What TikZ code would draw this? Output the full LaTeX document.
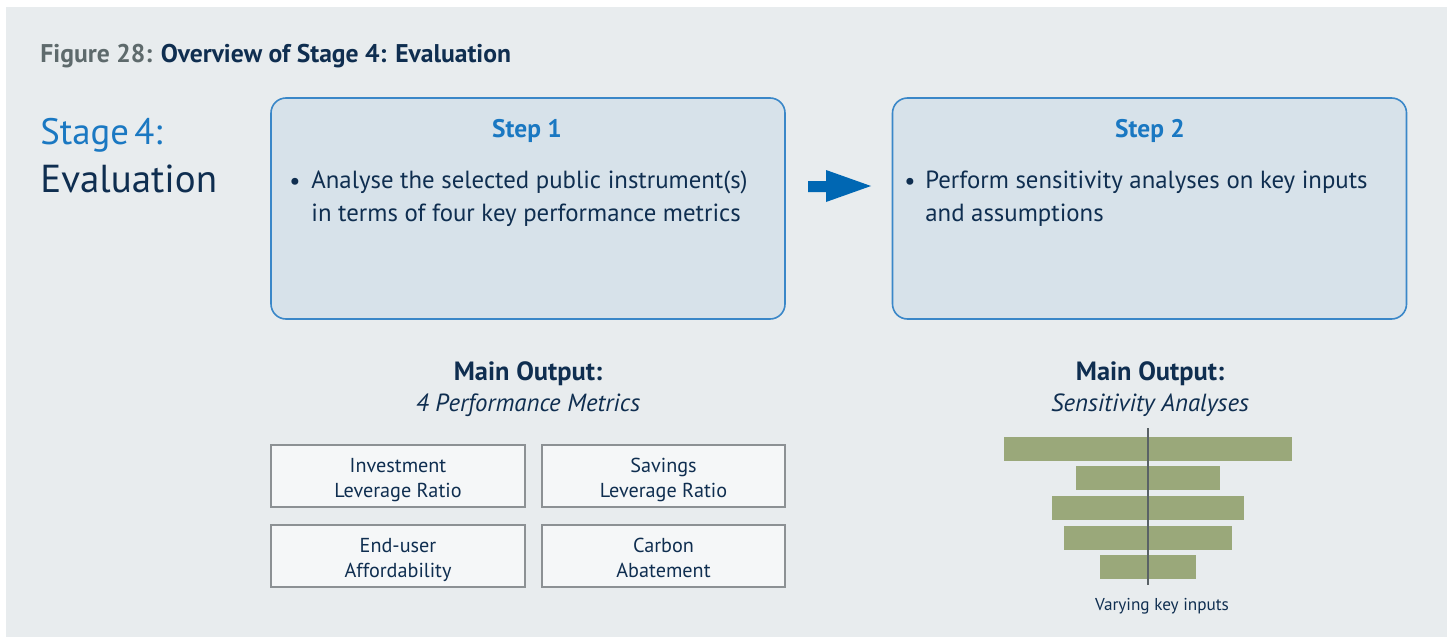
\documentclass[tikz,border=0pt]{standalone}
\usepackage{fontspec}
\setmainfont{PT Sans}
\usetikzlibrary{positioning}

\definecolor{panelgrey}{HTML}{E8ECEE}
\definecolor{navy}{HTML}{0F2E50}
\definecolor{figgrey}{HTML}{5E6A6C}
\definecolor{stageblue}{HTML}{1A78C2}
\definecolor{stepfill}{HTML}{D7E2EA}
\definecolor{stepline}{HTML}{3A87C8}
\definecolor{arrowblue}{HTML}{0067B3}
\definecolor{metricfill}{HTML}{F5F7F8}
\definecolor{metricline}{HTML}{8C9194}
\definecolor{barolive}{HTML}{9AA87A}
\definecolor{axisgrey}{HTML}{5A6266}

\tikzset{
  stepbox/.style={draw=stepline, line width=0.8pt, fill=stepfill, rounded corners=7.5pt,
    minimum width=257pt, minimum height=110.5pt, inner sep=0pt},
  steptitle/.style={anchor=base, inner sep=0pt, text=stageblue, font=\fontsize{12.7}{15}\selectfont\bfseries},
  bullettext/.style={anchor=base west, inner sep=0pt, text=navy, align=left,
    font=\fontsize{12.4}{16.2}\selectfont},
  outhead/.style={anchor=base, inner sep=0pt, text=navy, font=\fontsize{13.2}{15}\selectfont\bfseries},
  outsub/.style={anchor=base, inner sep=0pt, text=navy, font=\fontsize{12.4}{15}\selectfont\itshape},
  metricbox/.style={draw=metricline, line width=0.6pt, fill=metricfill, inner sep=0pt,
    minimum height=31pt},
  metrictext/.style={anchor=base, inner sep=0pt, text=navy, align=center,
    font=\fontsize{10.1}{12.5}\selectfont},
  tornadobar/.style={fill=barolive},
}

\begin{document}
\begin{tikzpicture}[x=0.5pt,y=-0.5pt]

\useasboundingbox (0,0) rectangle (1454,637);

% --- Pannello
\fill[panelgrey] (6,7) rectangle (1447,637);

% --- Titolo
\node[anchor=base west, inner sep=0pt, font=\fontsize{12.8}{15}\selectfont\bfseries] (title) at (40,62)
  {\textcolor{figgrey}{Figure 28:} \textcolor{navy}{Overview of Stage 4: Evaluation}};

% --- Stage
\node[anchor=base west, inner sep=0pt, text=stageblue, font=\fontsize{18.4}{24}\selectfont] (stage) at (40,144) {Stage\hspace{0.14em}4:};
\node[anchor=base west, inner sep=0pt, text=navy, font=\fontsize{19.5}{24}\selectfont] (evaluation) at (40,192) {Evaluation};

% --- Step 1 e Step 2
\node[stepbox] (step1) at (528,208.5) {};
\node[stepbox] (step2) at (1149.5,208.5) {};

\node[steptitle] (step1title) at (527,137) {Step 1};
\node[steptitle] (step2title) at (1150,137) {Step 2};

% base = ultima riga
\node[bullettext] (bullet1) at (289,189) {\textbullet};
\node[bullettext] (text1) at (311,221) {Analyse the selected public instrument(s)\\in terms of four key performance metrics};
\node[bullettext] (bullet2) at (904,189) {\textbullet};
\node[bullettext] (text2) at (925,221) {Perform sensitivity analyses on key inputs\\and assumptions};

% --- Freccia
\fill[arrowblue] (808,181) -- (826,181) -- (826,170) -- (871,186) -- (826,202)
  -- (826,192) -- (808,192) -- cycle;

% --- Main output sinistra
\node[outhead] (out1head) at (528,380) {Main Output:};
\node[outsub] (out1sub) at (528,411) {4 Performance Metrics};

\node[metricbox, minimum width=127pt] (invest) at (398,476) {};
\node[metricbox, minimum width=121.5pt] (savings) at (663.5,476) {};
\node[metricbox, minimum width=127pt] (enduser) at (398,556) {};
\node[metricbox, minimum width=121.5pt] (carbon) at (663.5,556) {};

\node[metrictext] (investtext) at (398,497) {Investment\\Leverage Ratio};
\node[metrictext] (savingstext) at (663.5,497) {Savings\\Leverage Ratio};
\node[metrictext] (endusertext) at (398,577) {End-user\\Affordability};
\node[metrictext] (carbontext) at (663.5,577) {Carbon\\Abatement};

% --- Main output destra
\node[outhead] (out2head) at (1150,380) {Main Output:};
\node[outsub] (out2sub) at (1150,411) {Sensitivity Analyses};

% --- Barre tornado
\fill[tornadobar] (1004,437) rectangle (1292,461);
\fill[tornadobar] (1076,466) rectangle (1220,490);
\fill[tornadobar] (1052,496) rectangle (1244,520);
\fill[tornadobar] (1064,526) rectangle (1232,550);
\fill[tornadobar] (1100,555) rectangle (1196,579);

\coordinate (axistop) at (1148,428);
\coordinate (axisbot) at (1148,585);
\draw[axisgrey, line width=0.6pt] (axistop) -- (axisbot);

\node[anchor=base, inner sep=0pt, text=navy, font=\fontsize{8.6}{10}\selectfont] (varying) at (1162,610) {Varying key inputs};

\end{tikzpicture}
\end{document}
